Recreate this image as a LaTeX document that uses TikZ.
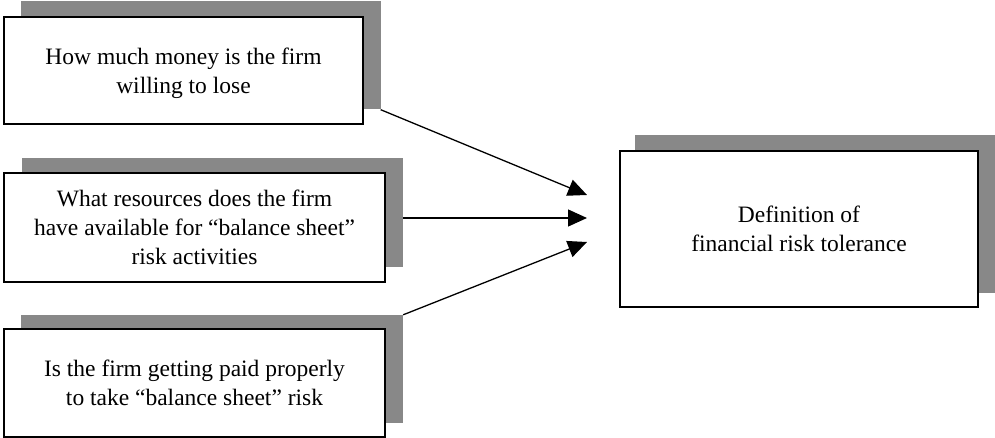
\documentclass[tikz,border=0pt]{standalone}
\usepackage{fontspec}
\setmainfont{Liberation Serif}
\usetikzlibrary{arrows.meta}
\definecolor{shade}{RGB}{136,136,136}
\begin{document}
\begin{tikzpicture}[x=1pt,y=-1pt,
  card/.style={draw=black, line width=2pt, fill=white, align=center,
    inner sep=0pt, text depth=0pt, font=\fontsize{23.5}{29}\selectfont},
  backing/.style={fill=shade, inner sep=0pt},
  link/.style={line width=1.3pt, -{Triangle[length=19pt,width=17pt]}}]
\useasboundingbox (0,0) rectangle (995,438);

% grey backings, offset up and to the right
\node[backing, minimum width=360pt, minimum height=108pt] (s1) at (200.5,55.5) {};
\node[backing, minimum width=381pt, minimum height=109pt] (s2) at (212.5,212.5) {};
\node[backing, minimum width=382pt, minimum height=108pt] (s3) at (212,369) {};
\node[backing, minimum width=360pt, minimum height=158pt] (s4) at (815,214) {};

% white boxes with text
\node[card, minimum width=359pt, minimum height=107pt] (b1) at (183.5,70.5)
  {How much money is the firm\\willing to lose};
\node[card, minimum width=381pt, minimum height=109pt] (b2) at (194.5,227.5)
  {What resources does the firm\\have available for “balance sheet”\\risk activities};
\node[card, minimum width=381pt, minimum height=108pt] (b3) at (194.5,383)
  {Is the firm getting paid properly\\to take “balance sheet” risk};
\node[card, minimum width=358pt, minimum height=156pt] (b4) at (799,229)
  {Definition of\\financial risk tolerance};

% arrow tips just left of the target box
\coordinate (t1) at (587,195);
\coordinate (t2) at (587,218);
\coordinate (t3) at (587,242);

\draw[link] (s1.south east) -- (t1);
\draw[link] (s2.east |- t2) -- (t2);
\draw[link] (s3.north east) -- (t3);
\end{tikzpicture}
\end{document}
